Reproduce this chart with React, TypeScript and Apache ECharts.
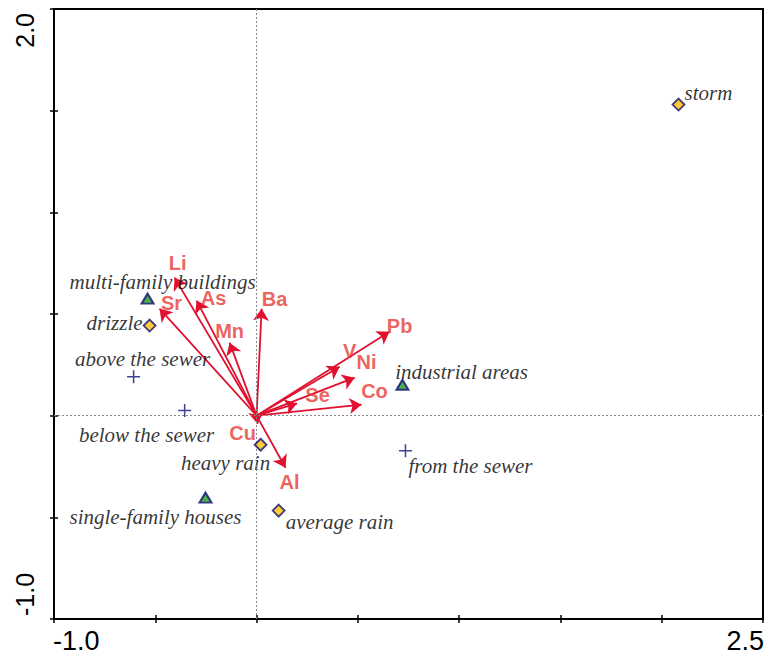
import React, { useEffect, useRef } from 'react';
import * as echarts from 'echarts';

const X_MIN = -1.0;
const X_MAX = 2.5;
const Y_MIN = -1.0;
const Y_MAX = 2.0;
const TICK_STEP = 0.5;
const xTickLabels = ['-1.0', '2.5'];
const yTickLabels = ['-1.0', '2.0'];

// Species (element) arrows
const elementNames = ['Li', 'Sr', 'As', 'Mn', 'Ba', 'Pb', 'V', 'Ni', 'Co', 'Se', 'Cu', 'Al'];
const elementX = [-0.405, -0.479, -0.296, -0.133, 0.025, 0.656, 0.41, 0.484, 0.518, 0.2, 0.005, 0.143];
const elementY = [0.679, 0.526, 0.566, 0.359, 0.526, 0.413, 0.241, 0.187, 0.054, 0.06, -0.04, -0.256];
const elementLabelX = [-0.39, -0.42, -0.212, -0.133, 0.089, 0.706, 0.459, 0.543, 0.582, 0.301, -0.069, 0.163];
const elementLabelY = [0.753, 0.556, 0.58, 0.418, 0.576, 0.443, 0.32, 0.266, 0.123, 0.103, -0.084, -0.325];

// Land use (triangles)
const landUseNames = ['multi-family buildings', 'industrial areas', 'single-family houses'];
const landUseX = [-0.538, 0.72, -0.252];
const landUseY = [0.576, 0.152, -0.403];
const landUseLabelX = [-0.464, 1.012, -0.499];
const landUseLabelY = [0.656, 0.216, -0.497];

// Rain (diamonds)
const rainNames = ['drizzle', 'heavy rain', 'average rain', 'storm'];
const rainX = [-0.528, 0.02, 0.109, 2.083];
const rainY = [0.443, -0.143, -0.467, 1.53];
const rainLabelX = [-0.701, -0.153, 0.41, 2.231];
const rainLabelY = [0.457, -0.231, -0.521, 1.589];

// Sewer position (plus)
const sewerNames = ['above the sewer', 'below the sewer', 'from the sewer'];
const sewerX = [-0.607, -0.355, 0.735];
const sewerY = [0.192, 0.025, -0.172];
const sewerLabelX = [-0.563, -0.543, 1.056];
const sewerLabelY = [0.28, -0.093, -0.246];

const GRID = { left: 54, right: 12, top: 9, bottom: 38 };
const W = 775;
const H = 657;

const ARROW_COLOR = '#e0102e';
const ELEMENT_LABEL_COLOR = '#e63a36';
const NAVY = '#10107a';

export default function App() {
  const ref = useRef<HTMLDivElement>(null);

  useEffect(() => {
    if (!ref.current) return;
    const chart = echarts.init(ref.current, null, { renderer: 'svg' });

    const siteLabelStyle = {
      show: true,
      position: 'inside',
      formatter: (p: any) => p.data.name,
      fontFamily: 'Liberation Serif',
      fontStyle: 'italic',
      fontSize: 21,
      color: '#000',
    };

    const siteLabels = [
      ...landUseNames.map((n, i) => ({ name: n, value: [landUseLabelX[i], landUseLabelY[i]] })),
      ...rainNames.map((n, i) => ({ name: n, value: [rainLabelX[i], rainLabelY[i]] })),
      ...sewerNames.map((n, i) => ({ name: n, value: [sewerLabelX[i], sewerLabelY[i]] })),
    ];

    const plotW = W - GRID.left - GRID.right;
    const plotH = H - GRID.top - GRID.bottom;
    const xFont = { fontFamily: 'Liberation Sans', fontSize: 27, fill: '#000' };
    const yFont = { fontFamily: 'Liberation Sans', fontSize: 25, fill: '#000' };

    const baseAxis = (extra: any) => ({
      type: 'value',
      interval: TICK_STEP,
      axisLabel: { show: false },
      splitLine: { show: false },
      ...extra,
    });

    const option: any = {
      animation: false,
      backgroundColor: '#fff',
      grid: {
        left: GRID.left,
        right: GRID.right,
        top: GRID.top,
        bottom: GRID.bottom,
        show: true,
        borderColor: '#000',
        borderWidth: 2,
        backgroundColor: 'transparent',
      },
      xAxis: [
        baseAxis({
          min: X_MIN,
          max: X_MAX,
          position: 'bottom',
          axisLine: { show: true, onZero: false, lineStyle: { color: '#000', width: 2 } },
          axisTick: { show: true, length: 4, lineStyle: { color: '#000', width: 1.5 } },
        }),
        baseAxis({
          min: X_MIN,
          max: X_MAX,
          position: 'bottom',
          offset: 0,
          axisLine: { show: false, onZero: false },
          axisTick: { show: true, inside: true, length: 4, lineStyle: { color: '#000', width: 1.5 } },
        }),
      ],
      yAxis: [
        baseAxis({
          min: Y_MIN,
          max: Y_MAX,
          position: 'left',
          axisLine: { show: true, onZero: false, lineStyle: { color: '#000', width: 2 } },
          axisTick: { show: true, length: 4, lineStyle: { color: '#000', width: 1.5 } },
        }),
        baseAxis({
          min: Y_MIN,
          max: Y_MAX,
          position: 'left',
          offset: 0,
          axisLine: { show: false, onZero: false },
          axisTick: { show: true, inside: true, length: 4, lineStyle: { color: '#000', width: 1.5 } },
        }),
      ],
      graphic: [
        {
          type: 'text',
          x: GRID.left - 1,
          y: H - GRID.bottom + 22,
          style: { ...xFont, text: xTickLabels[0], textAlign: 'left', textVerticalAlign: 'middle' },
        },
        {
          type: 'text',
          x: GRID.left + plotW + 1,
          y: H - GRID.bottom + 22,
          style: { ...xFont, text: xTickLabels[1], textAlign: 'right', textVerticalAlign: 'middle' },
        },
        {
          type: 'text',
          x: 25,
          y: GRID.top + plotH - 3,
          rotation: Math.PI / 2,
          style: { ...yFont, text: yTickLabels[0], textAlign: 'left', textVerticalAlign: 'middle' },
        },
        {
          type: 'text',
          x: 25,
          y: GRID.top + 4,
          rotation: Math.PI / 2,
          style: { ...yFont, text: yTickLabels[1], textAlign: 'right', textVerticalAlign: 'middle' },
        },
      ],
      series: [
        {
          type: 'scatter',
          data: [],
          silent: true,
          z: 1,
          markLine: {
            silent: true,
            symbol: 'none',
            label: { show: false },
            lineStyle: { color: '#888', type: [2, 2], width: 1 },
            data: [{ xAxis: 0 }, { yAxis: 0 }],
          },
        },
        {
          type: 'lines',
          coordinateSystem: 'cartesian2d',
          silent: true,
          z: 3,
          symbol: ['none', 'arrow'],
          symbolSize: 12,
          lineStyle: { color: ARROW_COLOR, width: 1.8, opacity: 1 },
          data: elementNames.map((n, i) => ({ name: n, coords: [[0, 0], [elementX[i], elementY[i]]] })),
        },
        {
          type: 'scatter',
          silent: true,
          z: 4,
          symbolSize: 1,
          itemStyle: { color: 'transparent' },
          label: {
            show: true,
            position: 'inside',
            formatter: (p: any) => p.data.name,
            fontFamily: 'Liberation Sans',
            fontWeight: 'bold',
            fontSize: 20,
            color: ELEMENT_LABEL_COLOR,
          },
          data: elementNames.map((n, i) => ({ name: n, value: [elementLabelX[i], elementLabelY[i]] })),
        },
        {
          type: 'scatter',
          silent: true,
          z: 4,
          symbolSize: 1,
          itemStyle: { color: 'transparent' },
          label: siteLabelStyle,
          data: siteLabels,
        },
        {
          type: 'scatter',
          silent: true,
          z: 5,
          symbol: 'triangle',
          symbolSize: [12, 10],
          itemStyle: { color: '#1f9a1f', borderColor: NAVY, borderWidth: 2 },
          data: landUseNames.map((n, i) => ({ name: n, value: [landUseX[i], landUseY[i]] })),
        },
        {
          type: 'scatter',
          silent: true,
          z: 5,
          symbol: 'diamond',
          symbolSize: [12, 12],
          itemStyle: { color: '#ffbf00', borderColor: NAVY, borderWidth: 1.8 },
          data: rainNames.map((n, i) => ({ name: n, value: [rainX[i], rainY[i]] })),
        },
        {
          type: 'scatter',
          silent: true,
          z: 5,
          symbol: 'path://M0,6L12,6M6,0L6,12',
          symbolSize: [13, 13],
          itemStyle: { color: 'transparent', borderColor: NAVY, borderWidth: 1.5 },
          data: sewerNames.map((n, i) => ({ name: n, value: [sewerX[i], sewerY[i]] })),
        },
      ],
    };

    chart.setOption(option);
    return () => chart.dispose();
  }, []);

  return (
    <div
      ref={ref}
      style={{ position: 'fixed', left: 0, top: 0, width: W, height: H, background: '#fff' }}
    />
  );
}
